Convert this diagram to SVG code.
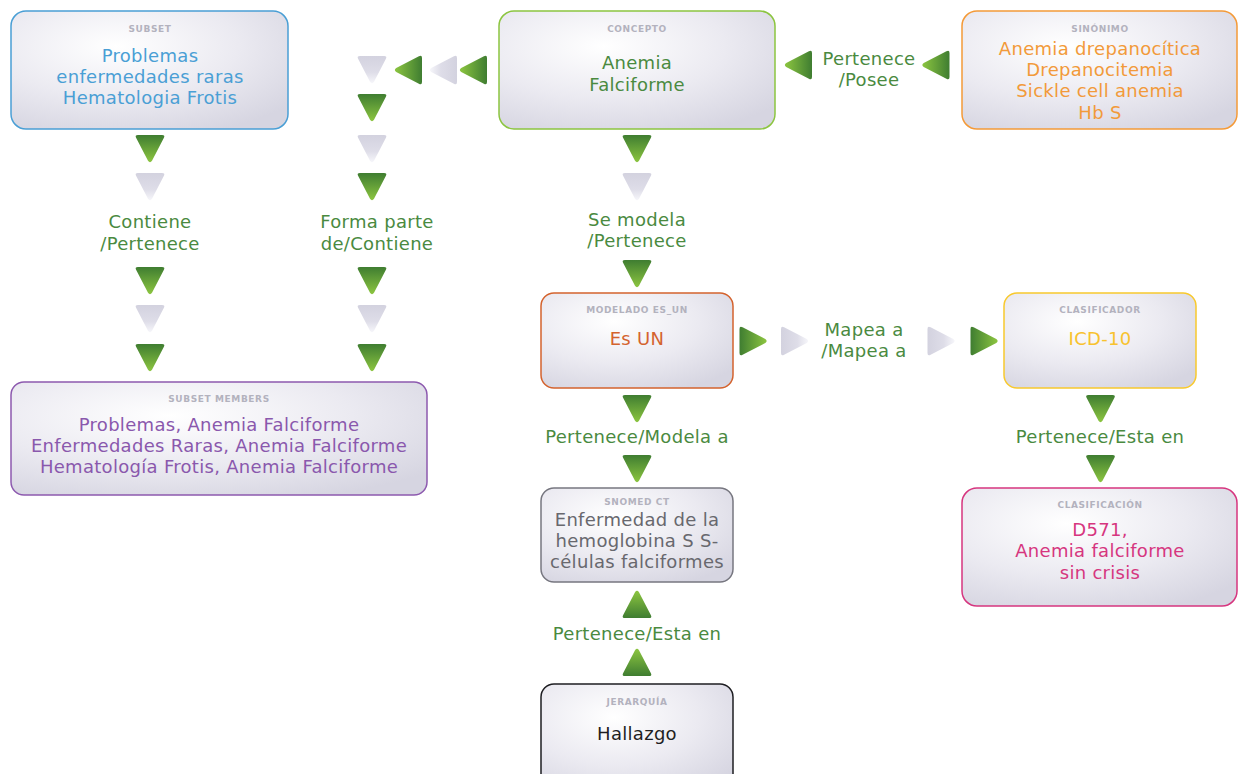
<svg xmlns="http://www.w3.org/2000/svg" width="1238" height="774" viewBox="0 0 1238 774">
  <defs>
    <radialGradient id="boxFill" cx="0.38" cy="0.3" r="0.8">
      <stop offset="0" stop-color="#ffffff"/>
      <stop offset="0.55" stop-color="#ebeaf1"/>
      <stop offset="1" stop-color="#d6d5e1"/>
    </radialGradient>
    <linearGradient id="greenTri" x1="0" y1="0" x2="0" y2="1">
      <stop offset="0" stop-color="#3f7d31"/>
      <stop offset="1" stop-color="#8cc540"/>
    </linearGradient>
    <linearGradient id="greyTri" x1="0" y1="0" x2="0" y2="1">
      <stop offset="0" stop-color="#d3d2df"/>
      <stop offset="0.6" stop-color="#dedde8"/>
      <stop offset="1" stop-color="#f6f6fa"/>
    </linearGradient>
    <!-- downward triangle centred on the origin; other directions are rotations -->
    <path id="tri" d="M -12,-13.5 H 12 Q 15.5,-13.5 13.8,-10.4 L 2,12.3 Q 0,15 -2,12.3 L -13.8,-10.4 Q -15.5,-13.5 -12,-13.5 Z"/>
  </defs>
  <style>
    .box { fill: url(#boxFill); stroke-width: 1.5; }
    .tag { font-family: "DejaVu Sans", "Liberation Sans", sans-serif; font-size: 9px; font-weight: bold; fill: #b3b2be; text-anchor: middle; letter-spacing: 0.6px; }
    .main { font-family: "DejaVu Sans", "Liberation Sans", sans-serif; font-size: 18px; letter-spacing: 0.3px; text-anchor: middle; }
    .lbl { font-family: "DejaVu Sans", "Liberation Sans", sans-serif; font-size: 18px; letter-spacing: 0.3px; text-anchor: middle; fill: #4a8a3f; }
    .g { fill: url(#greenTri); }
    .s { fill: url(#greyTri); }
  </style>

  <rect width="1238" height="774" fill="#ffffff"/>

  <!-- connectors: chains of triangles with their relation labels -->
  <g id="connectors">
    <!-- subset column -->
    <use href="#tri" class="g" transform="translate(150,148.5)"/>
    <use href="#tri" class="s" transform="translate(150,186.5)"/>
    <text class="lbl" x="150" y="228">Contiene</text>
    <text class="lbl" x="150" y="250">/Pertenece</text>
    <use href="#tri" class="g" transform="translate(150,280.5)"/>
    <use href="#tri" class="s" transform="translate(150,318.5)"/>
    <use href="#tri" class="g" transform="translate(150,357.5)"/>

    <!-- concept to subset members -->
    <use href="#tri" class="g" transform="translate(473.5,70) rotate(90)"/>
    <use href="#tri" class="s" transform="translate(443.5,70) rotate(90)"/>
    <use href="#tri" class="g" transform="translate(408.5,70) rotate(90)"/>
    <use href="#tri" class="s" transform="translate(372,69.5)"/>
    <use href="#tri" class="g" transform="translate(372,107.5)"/>
    <use href="#tri" class="s" transform="translate(372,148.5)"/>
    <use href="#tri" class="g" transform="translate(372,186.5)"/>
    <text class="lbl" x="377" y="228">Forma parte</text>
    <text class="lbl" x="377" y="250">de/Contiene</text>
    <use href="#tri" class="g" transform="translate(372,280.5)"/>
    <use href="#tri" class="s" transform="translate(372,318.5)"/>
    <use href="#tri" class="g" transform="translate(372,357.5)"/>

    <!-- synonym to concept -->
    <use href="#tri" class="g" transform="translate(936,65) rotate(90)"/>
    <text class="lbl" x="869" y="65">Pertenece</text>
    <text class="lbl" x="869" y="86">/Posee</text>
    <use href="#tri" class="g" transform="translate(798.5,65) rotate(90)"/>

    <!-- concept to modelado -->
    <use href="#tri" class="g" transform="translate(637,148.5)"/>
    <use href="#tri" class="s" transform="translate(637,186.5)"/>
    <text class="lbl" x="637" y="226">Se modela</text>
    <text class="lbl" x="637" y="247">/Pertenece</text>
    <use href="#tri" class="g" transform="translate(637,273.5)"/>

    <!-- modelado to clasificador -->
    <use href="#tri" class="g" transform="translate(753,341) rotate(-90)"/>
    <use href="#tri" class="s" transform="translate(794.5,341) rotate(-90)"/>
    <text class="lbl" x="864" y="336">Mapea a</text>
    <text class="lbl" x="864" y="357">/Mapea a</text>
    <use href="#tri" class="s" transform="translate(941,341) rotate(-90)"/>
    <use href="#tri" class="g" transform="translate(984,341) rotate(-90)"/>

    <!-- modelado to snomed -->
    <use href="#tri" class="g" transform="translate(637,408.5)"/>
    <text class="lbl" x="637" y="443">Pertenece/Modela a</text>
    <use href="#tri" class="g" transform="translate(637,468.5)"/>

    <!-- jerarquia to snomed -->
    <use href="#tri" class="g" transform="translate(637,604.5) rotate(180)"/>
    <text class="lbl" x="637" y="640">Pertenece/Esta en</text>
    <use href="#tri" class="g" transform="translate(637,662.5) rotate(180)"/>

    <!-- clasificador to clasificacion -->
    <use href="#tri" class="g" transform="translate(1100.5,408.5)"/>
    <text class="lbl" x="1100" y="443">Pertenece/Esta en</text>
    <use href="#tri" class="g" transform="translate(1100.5,468.5)"/>
  </g>

  <g id="subset">
    <rect class="box" x="11" y="11" width="277" height="118" rx="15" stroke="#4a9fd5"/>
    <text class="tag" x="150" y="32">SUBSET</text>
    <text class="main" fill="#4a9fd5" x="150" y="62">Problemas</text>
    <text class="main" fill="#4a9fd5" x="150" y="83">enfermedades raras</text>
    <text class="main" fill="#4a9fd5" x="150" y="104">Hematologia Frotis</text>
  </g>

  <g id="concepto">
    <rect class="box" x="499" y="11" width="276" height="118" rx="15" stroke="#8cc540"/>
    <text class="tag" x="637" y="32">CONCEPTO</text>
    <text class="main" fill="#4a8a3f" x="637" y="69">Anemia</text>
    <text class="main" fill="#4a8a3f" x="637" y="91">Falciforme</text>
  </g>

  <g id="sinonimo">
    <rect class="box" x="962" y="11" width="275" height="118" rx="15" stroke="#f49a38"/>
    <text class="tag" x="1100" y="32">SINÓNIMO</text>
    <text class="main" fill="#f29a3a" x="1100" y="55">Anemia drepanocítica</text>
    <text class="main" fill="#f29a3a" x="1100" y="76">Drepanocitemia</text>
    <text class="main" fill="#f29a3a" x="1100" y="97">Sickle cell anemia</text>
    <text class="main" fill="#f29a3a" x="1100" y="119">Hb S</text>
  </g>

  <g id="modelado">
    <rect class="box" x="541" y="293" width="192" height="95" rx="13" stroke="#d4632e"/>
    <text class="tag" x="637" y="313">MODELADO ES_UN</text>
    <text class="main" fill="#d4632e" x="637" y="345">Es UN</text>
  </g>

  <g id="clasificador">
    <rect class="box" x="1004" y="293" width="192" height="95" rx="13" stroke="#f8c92e"/>
    <text class="tag" x="1100" y="313">CLASIFICADOR</text>
    <text class="main" fill="#f8c22e" x="1100" y="345">ICD-10</text>
  </g>

  <g id="subset-members">
    <rect class="box" x="11" y="382" width="416" height="113" rx="13" stroke="#8d5aaf"/>
    <text class="tag" x="219" y="402">SUBSET MEMBERS</text>
    <text class="main" fill="#8a58ad" x="219" y="431">Problemas, Anemia Falciforme</text>
    <text class="main" fill="#8a58ad" x="219" y="452">Enfermedades Raras, Anemia Falciforme</text>
    <text class="main" fill="#8a58ad" x="219" y="473">Hematología Frotis, Anemia Falciforme</text>
  </g>

  <g id="snomed">
    <rect class="box" x="541" y="488" width="192" height="94" rx="13" stroke="#777780"/>
    <text class="tag" x="637" y="505">SNOMED CT</text>
    <text class="main" fill="#68686e" x="637" y="526">Enfermedad de la</text>
    <text class="main" fill="#68686e" x="637" y="547">hemoglobina S S-</text>
    <text class="main" fill="#68686e" x="637" y="568">células falciformes</text>
  </g>

  <g id="clasificacion">
    <rect class="box" x="962" y="488" width="275" height="118" rx="15" stroke="#d6367f"/>
    <text class="tag" x="1100" y="508">CLASIFICACIÓN</text>
    <text class="main" fill="#d6367f" x="1100" y="536">D571,</text>
    <text class="main" fill="#d6367f" x="1100" y="557">Anemia falciforme</text>
    <text class="main" fill="#d6367f" x="1100" y="579">sin crisis</text>
  </g>

  <g id="jerarquia">
    <rect class="box" x="541" y="684" width="192" height="110" rx="13" stroke="#1e1e22"/>
    <text class="tag" x="637" y="705">JERARQUÍA</text>
    <text class="main" fill="#1e1e22" x="637" y="740">Hallazgo</text>
  </g>
</svg>
